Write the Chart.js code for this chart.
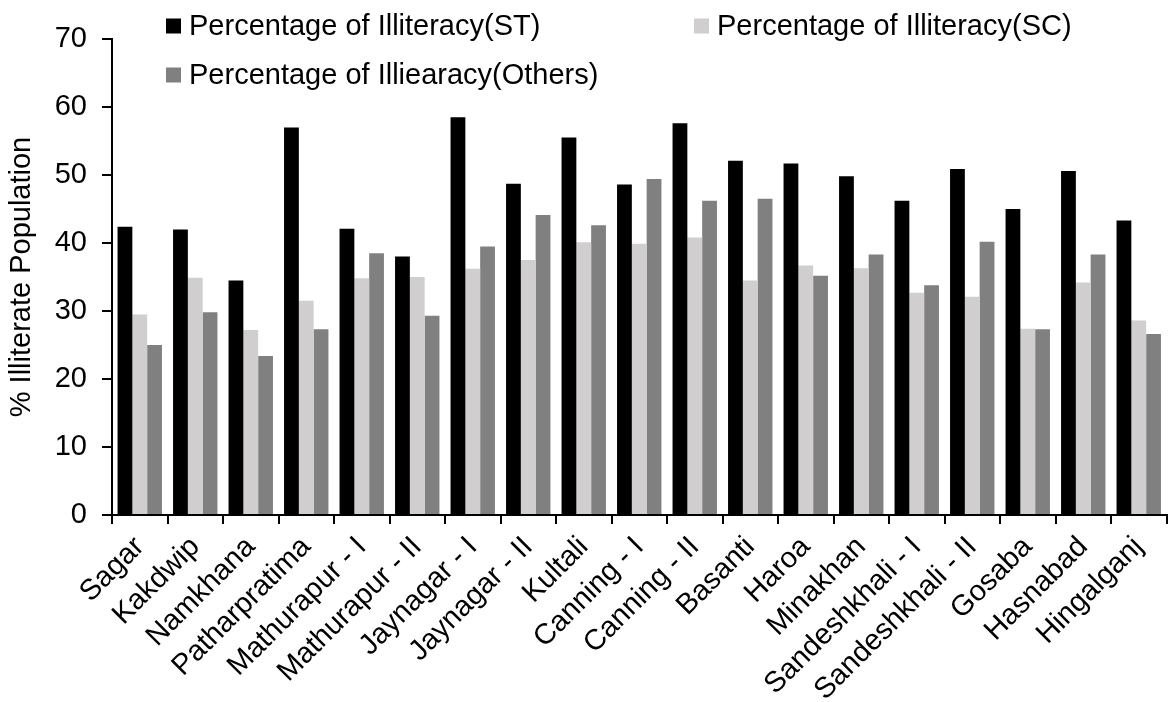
<!DOCTYPE html>
<html>
<head>
<meta charset="utf-8">
<title>Illiteracy by Block</title>
<script src="https://cdn.jsdelivr.net/npm/chart.js@4/dist/chart.umd.min.js"></script>
<style>
  html, body { margin: 0; padding: 0; background: #ffffff; }
  #wrap { width: 1176px; height: 702px; position: relative; }
</style>
</head>
<body>
<div id="wrap"><canvas id="chart" width="1176" height="702"></canvas></div>
<script>
// Community development blocks
const blocks = ["Sagar", "Kakdwip", "Namkhana", "Patharpratima", "Mathurapur - I", "Mathurapur - II",
  "Jaynagar - I", "Jaynagar - II", "Kultali", "Canning - I", "Canning - II", "Basanti", "Haroa",
  "Minakhan", "Sandeshkhali - I", "Sandeshkhali - II", "Gosaba", "Hasnabad", "Hingalganj"];

// Percentage of illiterate population per group
const illiteracyST = [42.4, 42.0, 34.5, 57.0, 42.1, 38.0, 58.5, 48.7, 55.5, 48.6, 57.6, 52.1, 51.7, 49.8, 46.2, 50.9, 45.0, 50.6, 43.3];
const illiteracySC = [29.5, 34.9, 27.2, 31.5, 34.8, 35.0, 36.2, 37.5, 40.1, 39.9, 40.8, 34.5, 36.7, 36.3, 32.7, 32.1, 27.4, 34.2, 28.6];
const illiteracyOthers = [25.0, 29.8, 23.4, 27.3, 38.5, 29.3, 39.5, 44.1, 42.6, 49.4, 46.2, 46.5, 35.2, 38.3, 33.8, 40.2, 27.3, 38.3, 26.6];

const seriesNames = ["Percentage of Illiteracy(ST)", "Percentage of Illiteracy(SC)", "Percentage of Illiearacy(Others)"];
const yTickValues = [0, 10, 20, 30, 40, 50, 60, 70];

const FONT = "'Liberation Sans', Arial, sans-serif";
const FONT_SIZE = 29;

Chart.defaults.font.family = FONT;
Chart.defaults.font.size = FONT_SIZE;
Chart.defaults.color = "#000000";

// Legend laid out in two rows above the plot
const legendSlots = [
  { x: 166, y: 18.5 },
  { x: 694, y: 18.5 },
  { x: 166, y: 67.5 }
];
const twoRowLegend = {
  id: "twoRowLegend",
  afterDraw(chart) {
    const ctx = chart.ctx;
    ctx.save();
    ctx.font = FONT_SIZE + "px " + FONT;
    ctx.textAlign = "left";
    ctx.textBaseline = "alphabetic";
    chart.data.datasets.forEach((ds, i) => {
      const slot = legendSlots[i];
      if (!slot) return;
      ctx.fillStyle = ds.backgroundColor;
      ctx.fillRect(slot.x, slot.y, 15, 15);
      ctx.fillStyle = "#000000";
      ctx.fillText(ds.label, slot.x + 23, slot.y + 16.5);
    });
    ctx.restore();
  }
};

const barStyle = { categoryPercentage: 0.8, barPercentage: 1.0, borderWidth: 0 };

new Chart(document.getElementById("chart"), {
  type: "bar",
  data: {
    labels: blocks,
    datasets: [
      Object.assign({ label: seriesNames[0], data: illiteracyST, backgroundColor: "#000000" }, barStyle),
      Object.assign({ label: seriesNames[1], data: illiteracySC, backgroundColor: "#d0cece" }, barStyle),
      Object.assign({ label: seriesNames[2], data: illiteracyOthers, backgroundColor: "#808080" }, barStyle)
    ]
  },
  options: {
    responsive: false,
    devicePixelRatio: 1,
    animation: false,
    layout: { padding: { top: 39, right: 9.5, left: 0, bottom: 0 } },
    plugins: {
      legend: { display: false },
      tooltip: { enabled: false }
    },
    scales: {
      x: {
        ticks: { minRotation: 45, maxRotation: 45, autoSkip: false, padding: 6, color: "#000000" },
        grid: { drawOnChartArea: false, offset: true, tickLength: 9, color: "#000000", lineWidth: 2 },
        border: { color: "#000000", width: 2 },
        afterFit(scale) { scale.height = 702 - 515; }
      },
      y: {
        min: yTickValues[0],
        max: yTickValues[yTickValues.length - 1],
        afterBuildTicks(scale) { scale.ticks = yTickValues.map(v => ({ value: v })); },
        ticks: { padding: 15, color: "#000000" },
        grid: { drawOnChartArea: false, tickLength: 10, color: "#000000", lineWidth: 2 },
        border: { color: "#000000", width: 2 },
        title: { display: true, text: "% Illiterate Population", color: "#000000", padding: { top: 5, bottom: 0 } },
        afterFit(scale) { scale.width = 112; }
      }
    }
  },
  plugins: [twoRowLegend]
});
</script>
</body>
</html>
